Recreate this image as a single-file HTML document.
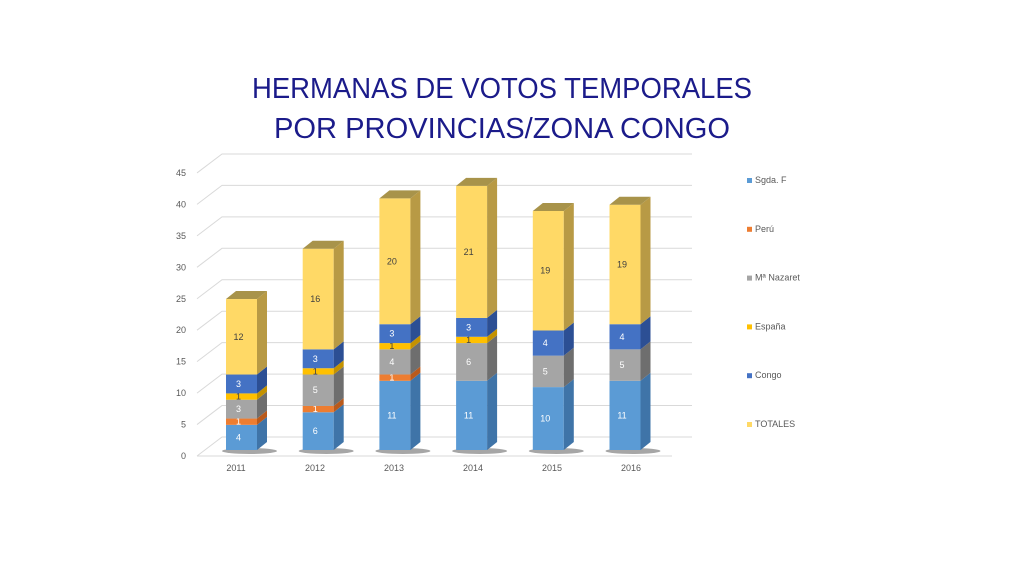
<!DOCTYPE html>
<html><head><meta charset="utf-8"><style>
html,body{margin:0;padding:0;background:#fff;}
svg{display:block;font-family:"Liberation Sans",sans-serif;}
</style></head><body>
<svg id="chart" width="1024" height="576" viewBox="0 0 1024 576">
<text x="502" y="98" text-anchor="middle" font-size="29" fill="#1b1b8a" textLength="500" lengthAdjust="spacingAndGlyphs">HERMANAS DE VOTOS TEMPORALES</text>
<text x="502" y="138" text-anchor="middle" font-size="29" fill="#1b1b8a" textLength="456" lengthAdjust="spacingAndGlyphs">POR PROVINCIAS/ZONA CONGO</text>
<g id="grid"></g><g id="bars"></g><g id="legend"></g>
</svg>
<script>
const years = ["2011","2012","2013","2014","2015","2016"];
const seriesNames = ["Sgda. F","Perú","Mª Nazaret","España","Congo","TOTALES"];
const sgda = [4,6,11,11,10,11];
const peru = [1,1,1,0,0,0];
const nazaret = [3,5,4,6,5,5];
const espana = [1,1,1,1,0,0];
const congo = [3,3,3,3,4,4];
const totales = [12,16,20,21,19,19];
const yTicks = [0,5,10,15,20,25,30,35,40,45];

const series=[sgda,peru,nazaret,espana,congo,totales];
const colors=["#5b9bd5","#ed7d31","#a5a5a5","#ffc000","#4472c4","#ffd966"];
const sides=["#3f74a8","#b95a1c","#6e6e6e","#c49200","#2c4f94","#b89a45"];
const tops=["#79b0e0","#f29a5c","#c0c0c0","#ffd040","#5d87d0","#a8934a"];
const NS="http://www.w3.org/2000/svg";
const PX=6.29, BASE=450, DX=10, DY=-8;
const y=v=>BASE-v*PX;
const xb=i=>226+76.7*i;
const BW=31;
function mk(tag,attrs,parent){const e=document.createElementNS(NS,tag);for(const k in attrs)e.setAttribute(k,attrs[k]);parent.appendChild(e);return e;}
const grid=document.getElementById('grid'),bars=document.getElementById('bars'),leg=document.getElementById('legend');
yTicks.forEach(t=>{
  const fy=456-t*PX;
  const l=mk('polyline',{points:`197,${fy} 222,${fy-19} 692,${fy-19}`,fill:'none',stroke:'#d9d9d9','stroke-width':1},grid);
  
  
  const tx=mk('text',{x:186,y:fy+3,'text-anchor':'end','font-size':9,fill:'#595959'},grid);
  tx.textContent=t;
  
  
});
const fl=mk('line',{x1:197,y1:456,x2:672,y2:456,stroke:'#d9d9d9'},grid);


years.forEach((yr,i)=>{
  const x=xb(i);
  const sh=mk('ellipse',{cx:x+BW/2+8,cy:BASE+1,rx:BW/2+12,ry:3,fill:'#000',opacity:0.35},bars);
  
  
  let cum=0;
  series.forEach((s,k)=>{
    const v=s[i]; if(!v){return;}
    const y0=y(cum), y1=y(cum+v); cum+=v;
    const g=mk('g',{},bars);
    
    
    mk('rect',{x:x,y:y1,width:BW,height:y0-y1,fill:colors[k]},g);
    mk('polygon',{points:`${x+BW},${y1} ${x+BW+DX},${y1+DY} ${x+BW+DX},${y0+DY} ${x+BW},${y0}`,fill:sides[k]},g);
    if(k===series.length-1) mk('polygon',{points:`${x},${y1} ${x+DX},${y1+DY} ${x+BW+DX},${y1+DY} ${x+BW},${y1}`,fill:tops[k]},g);
    const lb=mk('text',{x:x+BW/2-3,y:(y0+y1)/2+3,'text-anchor':'middle','font-size':9,fill:(k===3||k===5)?'#404040':'#fff'},g);
    lb.textContent=v;
    
    
  });
  const xl=mk('text',{x:236+79*i,y:471,'text-anchor':'middle','font-size':9,fill:'#595959'},bars);
  xl.textContent=yr;
  
  
});
seriesNames.forEach((n,k)=>{
  const ly=183+48.8*k;
  const g=mk('g',{},leg);
  
  
  mk('rect',{x:747,y:ly-5,width:5,height:5,fill:colors[k]},g);
  const t=mk('text',{x:755,y:ly,'font-size':9,fill:'#595959'},g);
  t.textContent=n;
});
</script>
</body></html>
